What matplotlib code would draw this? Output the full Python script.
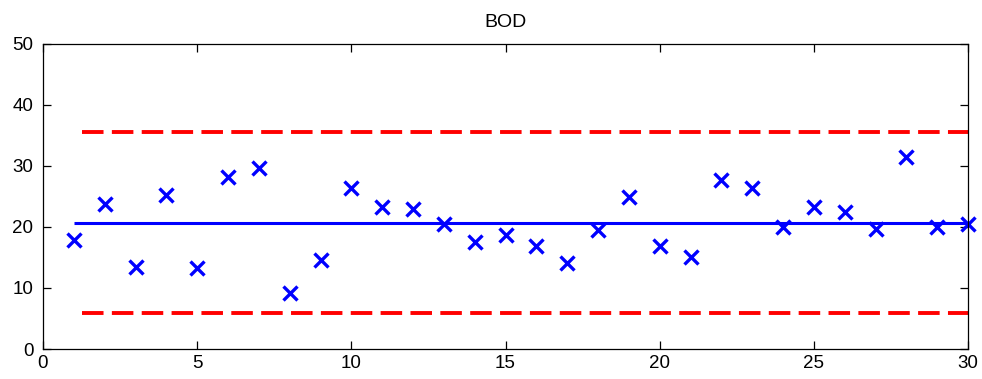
import matplotlib
matplotlib.use("Agg")
import matplotlib.pyplot as plt

plt.rcParams['font.family'] = ['Liberation Sans', 'DejaVu Sans']
plt.rcParams['lines.scale_dashes'] = False

sample = list(range(1, 31))
bod = [17.8, 23.7, 13.5, 25.2, 13.3, 28.1, 29.7, 9.2, 14.6, 26.3,
       23.3, 22.9, 20.5, 17.6, 18.7, 16.9, 14.1, 19.5, 24.9, 16.9,
       15.1, 27.7, 26.3, 20.0, 23.2, 22.5, 19.6, 31.5, 19.9, 20.4]
center = 20.7
ucl = 35.6
lcl = 5.9
center_x = [1, 30]
limit_x = [1.25, 30]

fig = plt.figure(figsize=(9.82, 3.79), dpi=100)
ax = fig.add_axes([43/982, 30/379, 925/982, 305.3/379])

ax.plot(center_x, [center, center], color='#0000ff', lw=2.2, solid_capstyle='butt')
ax.plot(limit_x, [ucl, ucl], color='#ff0000', lw=2.8, dashes=(15.5, 6.0), dash_capstyle='butt')
ax.plot(limit_x, [lcl, lcl], color='#ff0000', lw=2.8, dashes=(15.5, 6.0), dash_capstyle='butt')
ax.plot(sample, bod, linestyle='none', marker='x', color='#0000ff', markersize=10, markeredgewidth=2.4, clip_on=False)

ax.set_xlim(0, 30)
ax.set_ylim(0, 50)
ax.set_xticks(range(0, 31, 5))
ax.set_yticks(range(0, 51, 10))
ax.tick_params(direction='in', length=6, width=0.9, top=True, right=True, labelsize=13.5, colors='black')
ax.tick_params(axis='x', pad=4)
ax.tick_params(axis='y', pad=7)
for s in ax.spines.values():
    s.set_linewidth(0.9)
ax.set_title('BOD', fontsize=14, pad=12)

fig.savefig('out.png', dpi=100)
